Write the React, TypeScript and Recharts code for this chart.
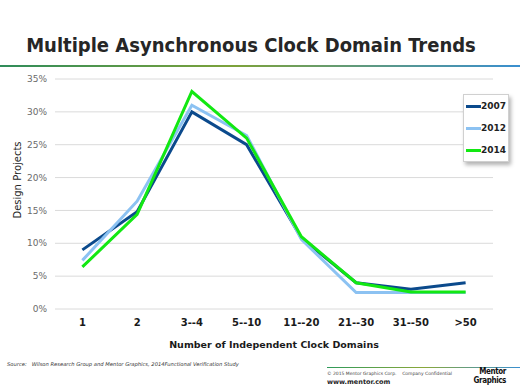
import { CartesianGrid, Line, LineChart, XAxis, YAxis } from "recharts";

const categories = ["1", "2", "3--4", "5--10", "11--20", "21--30", "31--50", ">50"];
const v2007 = [9, 14.8, 30, 25, 10.8, 4, 3, 4];
const v2012 = [7.4, 16.4, 31, 26.4, 10.6, 2.5, 2.5, 2.5];
const v2014 = [6.4, 14.4, 33.1, 26, 11, 4, 2.6, 2.6];
const yTicks = [0, 5, 10, 15, 20, 25, 30, 35];
const bandTicks = [0, 1, 2, 3, 4, 5, 6, 7, 8];

const series = [
  { key: "2007", color: "#0b4a8c" },
  { key: "2012", color: "#8cc2f2" },
  { key: "2014", color: "#12e812" }
];

const data = categories.map((c, i) => ({
  cat: c,
  "2007": v2007[i],
  "2012": v2012[i],
  "2014": v2014[i]
}));

function LegendBox() {
  return (
    <div
      style={{
        position: "absolute",
        left: 463,
        top: 94,
        background: "#fff",
        border: "1px solid #d0d0d0",
        boxShadow: "2px 3px 4px rgba(0,0,0,.3)",
        padding: "0 2px",
        width: 40
      }}
    >
      {series.map((s) => (
        <div key={s.key} style={{ display: "flex", alignItems: "center", height: 22 }}>
          <span style={{ display: "inline-block", width: 15, height: 3, background: s.color }} />
          <span style={{ font: "bold 9px 'DejaVu Sans'", color: "#222" }}>{s.key}</span>
        </div>
      ))}
    </div>
  );
}

export default function App() {
  return (
    <div style={{ position: "fixed", left: 0, top: 0, width: 520, height: 390, background: "#fff", overflow: "hidden" }}>
      <div
        style={{
          position: "absolute",
          top: 33,
          left: -9,
          width: 520,
          textAlign: "center",
          font: "bold 20px 'DejaVu Sans Condensed', 'DejaVu Sans'",
          color: "#262626"
        }}
      >
        Multiple Asynchronous Clock Domain Trends
      </div>
      <div
        style={{
          position: "absolute",
          top: 65,
          left: 0,
          width: 520,
          height: 2,
          background: "linear-gradient(to right, #2f8c5a, #7da23a 45%, #3a8fd0)"
        }}
      />
      <LineChart width={520} height={390} data={data} margin={{ top: 79, right: 27, left: 5, bottom: 51 }}>
        <CartesianGrid stroke="#dadada" vertical={false} />
        <XAxis
          xAxisId="bands"
          type="number"
          domain={[0, 8]}
          ticks={bandTicks}
          allowDataOverflow
          height={0}
          tickFormatter={() => ""}
          tickSize={4}
          stroke="#a6a6a6"
        />
        <XAxis
          dataKey="cat"
          height={30}
          scale="band"
          axisLine={false}
          tickLine={false}
          interval={0}
          tick={{ fill: "#1a1a1a", fontSize: 10, fontWeight: "bold", fontFamily: "DejaVu Sans" }}
          dy={2}
        />
        <YAxis
          width={50}
          domain={[0, 35]}
          ticks={yTicks}
          axisLine={false}
          tickLine={false}
          tickFormatter={(v) => `${v}%`}
          tick={{ fill: "#6a6a6a", fontSize: 9, fontFamily: "DejaVu Sans" }}
        />
        {series.map((s) => (
          <Line
            key={s.key}
            type="linear"
            dataKey={s.key}
            stroke={s.color}
            strokeWidth={3}
            dot={false}
            isAnimationActive={false}
          />
        ))}
      </LineChart>
      <LegendBox />
      <div
        style={{
          position: "absolute",
          top: 180,
          left: 17,
          transform: "translate(-50%, -50%) rotate(-90deg)",
          font: "10px 'DejaVu Sans'",
          color: "#262626",
          whiteSpace: "nowrap"
        }}
      >
        Design Projects
      </div>
      <div
        style={{
          position: "absolute",
          top: 339,
          left: 0,
          width: 548,
          textAlign: "center",
          font: "bold 9.5px 'DejaVu Sans'",
          color: "#1a1a1a"
        }}
      >
        Number of Independent Clock Domains
      </div>
      <div
        style={{
          position: "absolute",
          top: 361,
          left: 7,
          font: "italic 5.2px 'DejaVu Sans'",
          color: "#333",
          whiteSpace: "nowrap"
        }}
      >
        Source:&nbsp;&nbsp; Wilson Research Group and Mentor Graphics, 2014Functional Verification Study
      </div>
      <div
        style={{
          position: "absolute",
          top: 367,
          left: 327,
          width: 193,
          height: 1,
          background: "linear-gradient(to right, #2f9a5a, #8aa83a 50%, #3a8fd0)"
        }}
      />
      <div style={{ position: "absolute", top: 371, left: 327, font: "4.5px 'DejaVu Sans'", color: "#444", whiteSpace: "nowrap" }}>
        © 2015 Mentor Graphics Corp.&nbsp;&nbsp;&nbsp; Company Confidential
      </div>
      <div style={{ position: "absolute", top: 378, left: 327, font: "bold 6.5px 'DejaVu Sans'", color: "#222" }}>
        www.mentor.com
      </div>
      <div
        style={{
          position: "absolute",
          top: 367,
          left: 466,
          width: 40,
          font: "bold 8px 'DejaVu Sans Condensed', 'DejaVu Sans'",
          color: "#111",
          lineHeight: "9px",
          textAlign: "right",
          letterSpacing: -0.4
        }}
      >
        Mentor
        <br />
        Graphics
      </div>
    </div>
  );
}
